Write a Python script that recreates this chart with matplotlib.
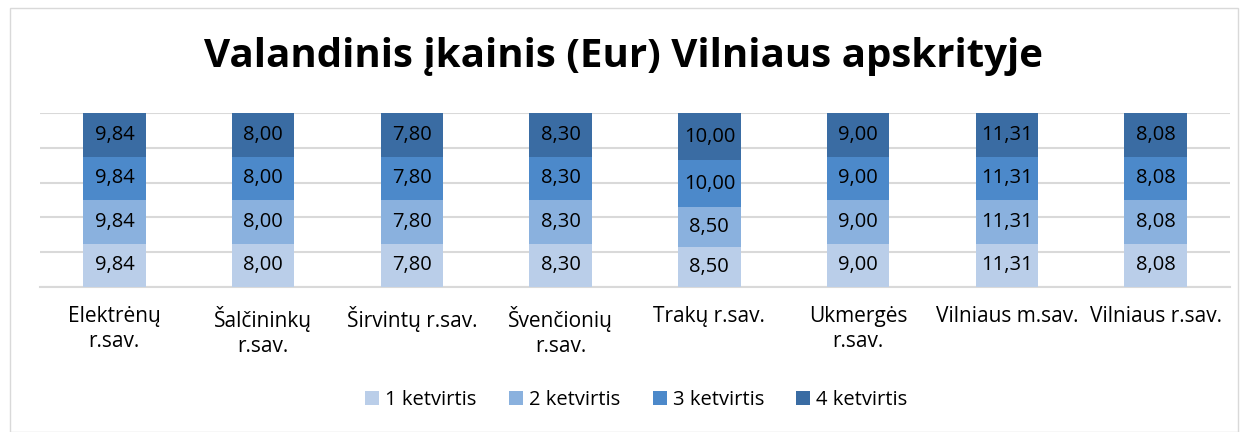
import numpy as np
import matplotlib.pyplot as plt
from matplotlib.patches import Rectangle

# duomenys
savivaldybes = ['Elektrėnų\nr.sav.', 'Šalčininkų\nr.sav.', 'Širvintų r.sav.', 'Švenčionių\nr.sav.',
                'Trakų r.sav.', 'Ukmergės\nr.sav.', 'Vilniaus m.sav.', 'Vilniaus r.sav.']
ketv1 = [9.84, 8.00, 7.80, 8.30, 8.50, 9.00, 11.31, 8.08]
ketv2 = [9.84, 8.00, 7.80, 8.30, 8.50, 9.00, 11.31, 8.08]
ketv3 = [9.84, 8.00, 7.80, 8.30, 10.00, 9.00, 11.31, 8.08]
ketv4 = [9.84, 8.00, 7.80, 8.30, 10.00, 9.00, 11.31, 8.08]
serijos = ['1 ketvirtis', '2 ketvirtis', '3 ketvirtis', '4 ketvirtis']
spalvos = ['#BACEE9', '#8AB1DE', '#4C89CA', '#3A6CA3']

plt.rcParams['font.family'] = ['Open Sans', 'DejaVu Sans']

fig = plt.figure(figsize=(12.48, 4.32), dpi=100)
fig.patches.append(Rectangle((10 / 1248, 0.0), 1 - 20 / 1248, 1 - 8 / 432,
                             transform=fig.transFigure, fill=False,
                             edgecolor='#D9D9D9', linewidth=1))
ax = fig.add_axes([40 / 1248, 1 - 287 / 432, 1190 / 1248, 174 / 432])

x = np.arange(len(savivaldybes))
duom = np.array([ketv1, ketv2, ketv3, ketv4])
suma = duom.sum(axis=0)
proc = duom / suma * 100

apacia = np.zeros(len(x))
for i in range(4):
    ax.bar(x, proc[i], 0.42, bottom=apacia, color=spalvos[i], label=serijos[i], zorder=3)
    for j in range(len(x)):
        ax.text(x[j], apacia[j] + proc[i][j] / 2, f"{duom[i][j]:.2f}".replace('.', ','),
                ha='center', va='center', fontsize=14.5, color='black', zorder=4)
    apacia += proc[i]

ax.set_xlim(-0.5, len(x) - 0.5)
ax.set_ylim(0, 100)
ax.set_yticks([0, 20, 40, 60, 80, 100])
ax.set_yticklabels([])
ax.tick_params(axis='y', length=0)
ax.tick_params(axis='x', length=0, pad=14)
ax.yaxis.grid(True, color='#D9D9D9', linewidth=1.5, zorder=0)
for s in ['top', 'right', 'left']:
    ax.spines[s].set_visible(False)
ax.spines['bottom'].set_color('#D9D9D9')
ax.spines['bottom'].set_linewidth(1.5)
ax.set_xticks(x)
ax.set_xticklabels(savivaldybes, fontsize=15, linespacing=1.25)

fig.text(0.5, 1 - 56 / 432, 'Valandinis įkainis (Eur) Vilniaus apskrityje',
         ha='center', va='center', fontsize=29, fontweight='bold')

fig.legend(loc='center', bbox_to_anchor=(0.51, 1 - 400 / 432), ncol=4, frameon=False,
           fontsize=14.5, handlelength=0.7, handleheight=0.7, handletextpad=0.3, columnspacing=1.6)

fig.savefig('out.png', dpi=100)
